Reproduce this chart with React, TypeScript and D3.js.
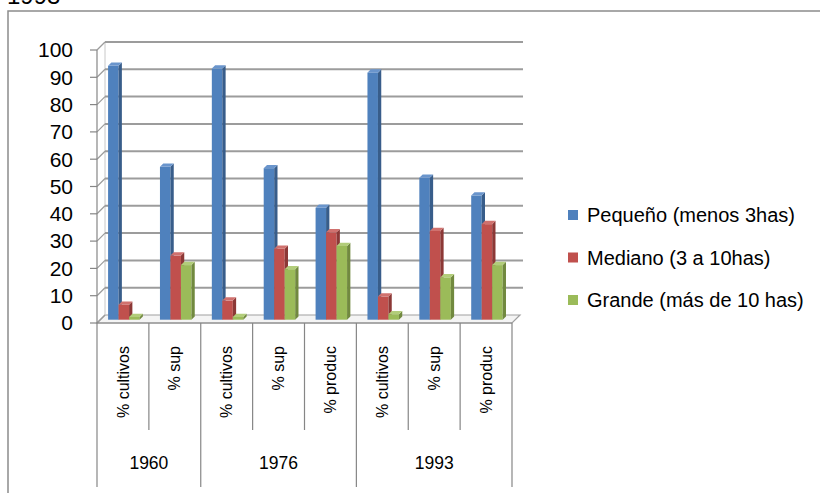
import React from 'react';
import * as d3 from 'd3';

// categories (front row) and the year each belongs to
const categories = ['% cultivos', '% sup', '% cultivos', '% sup', '% produc', '% cultivos', '% sup', '% produc'];
const years = ['1960', '1976', '1993'];
const yearSpans = [2, 3, 3];

const seriesNames = ['Pequeño (menos 3has)', 'Mediano (3 a 10has)', 'Grande (más de 10 has)'];
const pequeno = [93, 56, 92, 55.5, 41, 90.5, 52, 45.5];
const mediano = [5.5, 23.5, 7, 26, 32, 8.5, 32.5, 35];
const grande = [1, 20, 1, 18.5, 27, 2, 15.5, 20];
const yTicks = [0, 10, 20, 30, 40, 50, 60, 70, 80, 90, 100];

const faceColors = ['#4F81BD', '#C0504D', '#9BBB59'];
const sideColors = ['#385D8A', '#8C3836', '#71893F'];
const topColors = ['#6A95CC', '#D0716E', '#B2CD7A'];

const W = 820;
const H = 493;
const DX = 8; // depth offset of the back wall
const DY = -8;
const font = '"Liberation Sans", Arial, sans-serif';

export default function App() {
  const x = d3.scaleBand<number>().domain(d3.range(categories.length)).range([97, 512]).padding(0);
  const y = d3.scaleLinear().domain([0, 100]).range([323, 50]);
  const inner = d3
    .scaleBand<number>()
    .domain([0, 1, 2])
    .range([x.bandwidth() * 0.15, x.bandwidth() * 0.757])
    .padding(0);

  const series = [pequeno, mediano, grande];
  const bw = inner.bandwidth();
  // bars sit part way into the depth
  const bdx = 3.3;
  const bdy = -3.3;
  const yBase = y(0) + bdy;

  const x0 = x(0)!;
  const x1 = x.range()[1];

  // group boundaries
  let acc = 0;
  const groups = years.map((yr, i) => {
    const start = acc;
    acc += yearSpans[i];
    return { yr, start, end: acc };
  });

  return (
    <svg width={W} height={H} style={{ position: 'absolute', left: 0, top: 0, background: '#fff' }}>
      <text x={7} y={4} fontFamily={font} fontSize={24} fill="#000">1993</text>
      <rect x={8} y={11} width={W} height={H} fill="#fff" stroke="#8c8c8c" strokeWidth={1.5} />

      {/* floor */}
      <polygon
        points={`${x0},${y(0)} ${x1},${y(0)} ${x1 + DX},${y(0) + DY} ${x0 + DX},${y(0) + DY}`}
        fill="#f4f4f4"
        stroke="#a0a0a0"
        strokeWidth={1.2}
      />

      {/* walls and gridlines */}
      <line x1={x0 + DX} x2={x0 + DX} y1={y(100) + DY} y2={y(0) + DY} stroke="#c8c8c8" strokeWidth={1} />
      {yTicks.map((t) => (
        <g key={t}>
          {t > 0 && (
            <line x1={x0 + DX} x2={x1 + DX + 3} y1={y(t) + DY} y2={y(t) + DY} stroke="#9c9c9c" strokeWidth={2} />
          )}
          <line x1={x0} x2={x0 + DX} y1={y(t)} y2={y(t) + DY} stroke="#9c9c9c" strokeWidth={1.3} />
          <line x1={x0 - 7} x2={x0} y1={y(t)} y2={y(t)} stroke="#868686" strokeWidth={1.2} />
          <text x={73} y={y(t)} dy="0.35em" textAnchor="end" fontFamily={font} fontSize={21} fill="#000">
            {t}
          </text>
        </g>
      ))}
      <line x1={x0} x2={x0} y1={y(100)} y2={y(0)} stroke="#868686" strokeWidth={1.2} />

      {/* bars */}
      {categories.map((_, ci) => (
        <g key={ci}>
          {series.map((vals, si) => {
            const bx = x(ci)! + inner(si)! + bdx;
            const top = y(vals[ci]) + bdy;
            return (
              <g key={si}>
                <rect x={bx} y={top} width={bw} height={yBase - top} fill={faceColors[si]} />
                <polygon
                  points={`${bx + bw},${top} ${bx + bw + bdx},${top + bdy} ${bx + bw + bdx},${yBase + bdy} ${bx + bw},${yBase}`}
                  fill={sideColors[si]}
                />
                <polygon
                  points={`${bx},${top} ${bx + bdx},${top + bdy} ${bx + bw + bdx},${top + bdy} ${bx + bw},${top}`}
                  fill={topColors[si]}
                />
              </g>
            );
          })}
        </g>
      ))}

      {/* category axis */}
      <line x1={x0} x2={x1} y1={y(0)} y2={y(0)} stroke="#868686" strokeWidth={1.2} />
      {d3.range(categories.length + 1).map((i) => {
        const isGroup = groups.some((g) => g.start === i || g.end === i);
        const xx = i < categories.length ? x(i)! : x1;
        return <line key={i} x1={xx} x2={xx} y1={y(0)} y2={isGroup ? 487 : 430} stroke="#868686" strokeWidth={1.2} />;
      })}
      {categories.map((c, i) => (
        <text
          key={i}
          transform={`translate(${x(i)! + x.bandwidth() / 2},346) rotate(-90)`}
          dy="0.35em"
          textAnchor="end"
          fontFamily={font}
          fontSize={16}
          fill="#000"
        >
          {c}
        </text>
      ))}
      {groups.map((g) => (
        <text
          key={g.yr}
          x={(x(g.start)! + (g.end < categories.length ? x(g.end)! : x1)) / 2}
          y={463}
          dy="0.35em"
          textAnchor="middle"
          fontFamily={font}
          fontSize={17.5}
          fill="#000"
        >
          {g.yr}
        </text>
      ))}

      {/* legend */}
      {seriesNames.map((n, i) => (
        <g key={n} transform={`translate(568,${215 + i * 42.5})`}>
          <rect x={0} y={-5} width={10} height={10} fill={faceColors[i]} />
          <text x={19} y={0} dy="0.35em" fontFamily={font} fontSize={20} fill="#000">
            {n}
          </text>
        </g>
      ))}
    </svg>
  );
}
